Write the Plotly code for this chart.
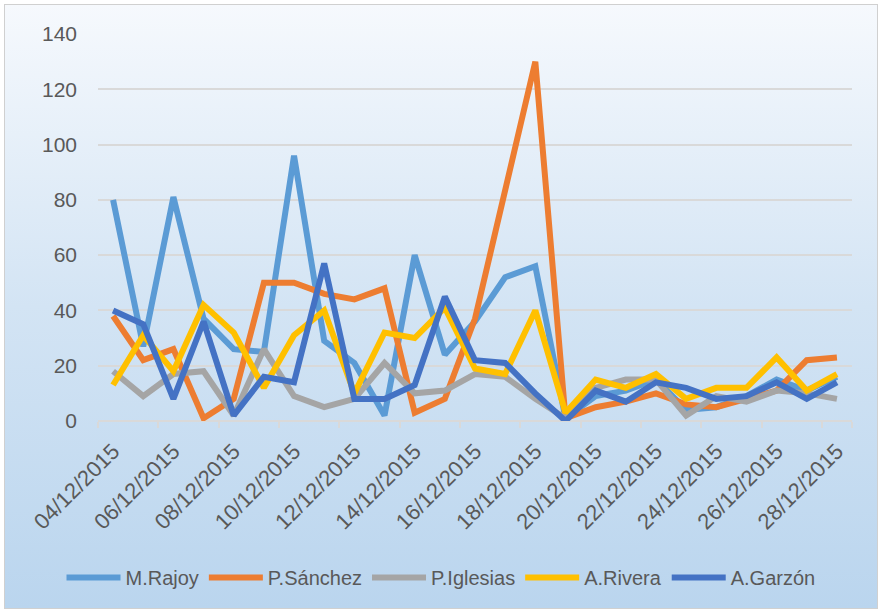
import plotly.graph_objects as go
import urllib.parse

dates = ["04/12/2015", "05/12/2015", "06/12/2015", "07/12/2015", "08/12/2015",
         "09/12/2015", "10/12/2015", "11/12/2015", "12/12/2015", "13/12/2015",
         "14/12/2015", "15/12/2015", "16/12/2015", "17/12/2015", "18/12/2015",
         "19/12/2015", "20/12/2015", "21/12/2015", "22/12/2015", "23/12/2015",
         "24/12/2015", "25/12/2015", "26/12/2015", "27/12/2015", "28/12/2015"]

rajoy = [80, 27, 81, 37, 26, 25, 96, 29, 21, 2, 60, 24, 36, 52, 56, 1, 9, 11, 15, 4, 5, 9, 15, 11, 16]
sanchez = [38, 22, 26, 1, 8, 50, 50, 46, 44, 48, 3, 8, 37, 83, 130, 1, 5, 7, 10, 6, 5, 8, 11, 22, 23]
iglesias = [18, 9, 17, 18, 2, 26, 9, 5, 8, 21, 10, 11, 17, 16, 8, 1, 12, 15, 15, 2, 9, 7, 11, 10, 8]
rivera = [13, 31, 18, 42, 32, 12, 31, 40, 10, 32, 30, 41, 19, 17, 40, 3, 15, 12, 17, 8, 12, 12, 23, 11, 17]
garzon = [40, 35, 8, 36, 2, 16, 14, 57, 8, 8, 13, 45, 22, 21, 10, 0, 11, 7, 14, 12, 8, 9, 14, 8, 14]

names = ["M.Rajoy", "P.Sánchez", "P.Iglesias", "A.Rivera", "A.Garzón"]
series = [rajoy, sanchez, iglesias, rivera, garzon]
colors = ["#5B9BD5", "#ED7D31", "#A5A5A5", "#FFC000", "#4472C4"]
tick_labels = dates[::2]

W, H = 882, 613
L, R, T, B = 98, 30, 34, 192

fig = go.Figure()
for n, s, c in zip(names, series, colors):
    fig.add_trace(go.Scatter(x=dates, y=s, name=n, mode="lines",
                             line=dict(color=c, width=6, shape="linear")))

svg = ('<svg xmlns="http://www.w3.org/2000/svg" width="882" height="613" viewBox="0 0 882 613" preserveAspectRatio="none">'
       '<defs><linearGradient id="g" x1="0" y1="0" x2="0" y2="1">'
       '<stop offset="0" stop-color="#F6F9FD"/><stop offset="0.5" stop-color="#D3E4F4"/>'
       '<stop offset="1" stop-color="#BAD5EE"/></linearGradient></defs>'
       '<rect x="0" y="0" width="882" height="613" fill="white"/>'
       '<rect x="4.5" y="4.5" width="873" height="604" fill="url(#g)" stroke="#D0D0D0" stroke-width="1"/>'
       '</svg>')
src = "data:image/svg+xml;charset=utf-8," + urllib.parse.quote(svg)

pw = W - L - R
ph = H - T - B
fig.add_layout_image(dict(source=src, xref="paper", yref="paper",
                          x=-L / pw, y=1 + T / ph, sizex=W / pw, sizey=H / ph,
                          xanchor="left", yanchor="top", sizing="stretch",
                          layer="below", opacity=1))

font_fam = "Liberation Sans, Arial, sans-serif"
fig.update_layout(
    width=W, height=H,
    margin=dict(l=L, r=R, t=T, b=B, pad=0, autoexpand=False),
    paper_bgcolor="white",
    plot_bgcolor="rgba(0,0,0,0)",
    font=dict(family=font_fam, color="#595959", size=20),
    showlegend=True,
    legend=dict(orientation="h", xref="container", yref="container",
                x=0.5, xanchor="center", y=0.058, yanchor="middle",
                font=dict(size=20, color="#595959"), itemwidth=54,
                bgcolor="rgba(0,0,0,0)", tracegroupgap=0),
    xaxis=dict(type="category", range=[-0.5, len(dates) - 0.5],
               tickmode="array", tickvals=tick_labels, ticktext=tick_labels,
               tickangle=-45, tickfont=dict(size=22, color="#595959"),
               ticks="outside", tickson="boundaries", ticklen=6, tickwidth=2,
               tickcolor="#D9D9D9", showgrid=False, showline=False,
               zeroline=False, ticklabelstandoff=12),
    yaxis=dict(range=[0, 140], dtick=20, tick0=0, showgrid=True,
               gridcolor="#D9D9D9", gridwidth=2, zeroline=True,
               zerolinecolor="#D9D9D9", zerolinewidth=2, showline=False,
               ticks="", tickfont=dict(size=21, color="#595959"),
               ticklabelstandoff=20),
)

fig.write_html("out.html", config={"displayModeBar": False},
               post_script="document.body.style.margin='0';document.body.style.overflow='hidden';")
